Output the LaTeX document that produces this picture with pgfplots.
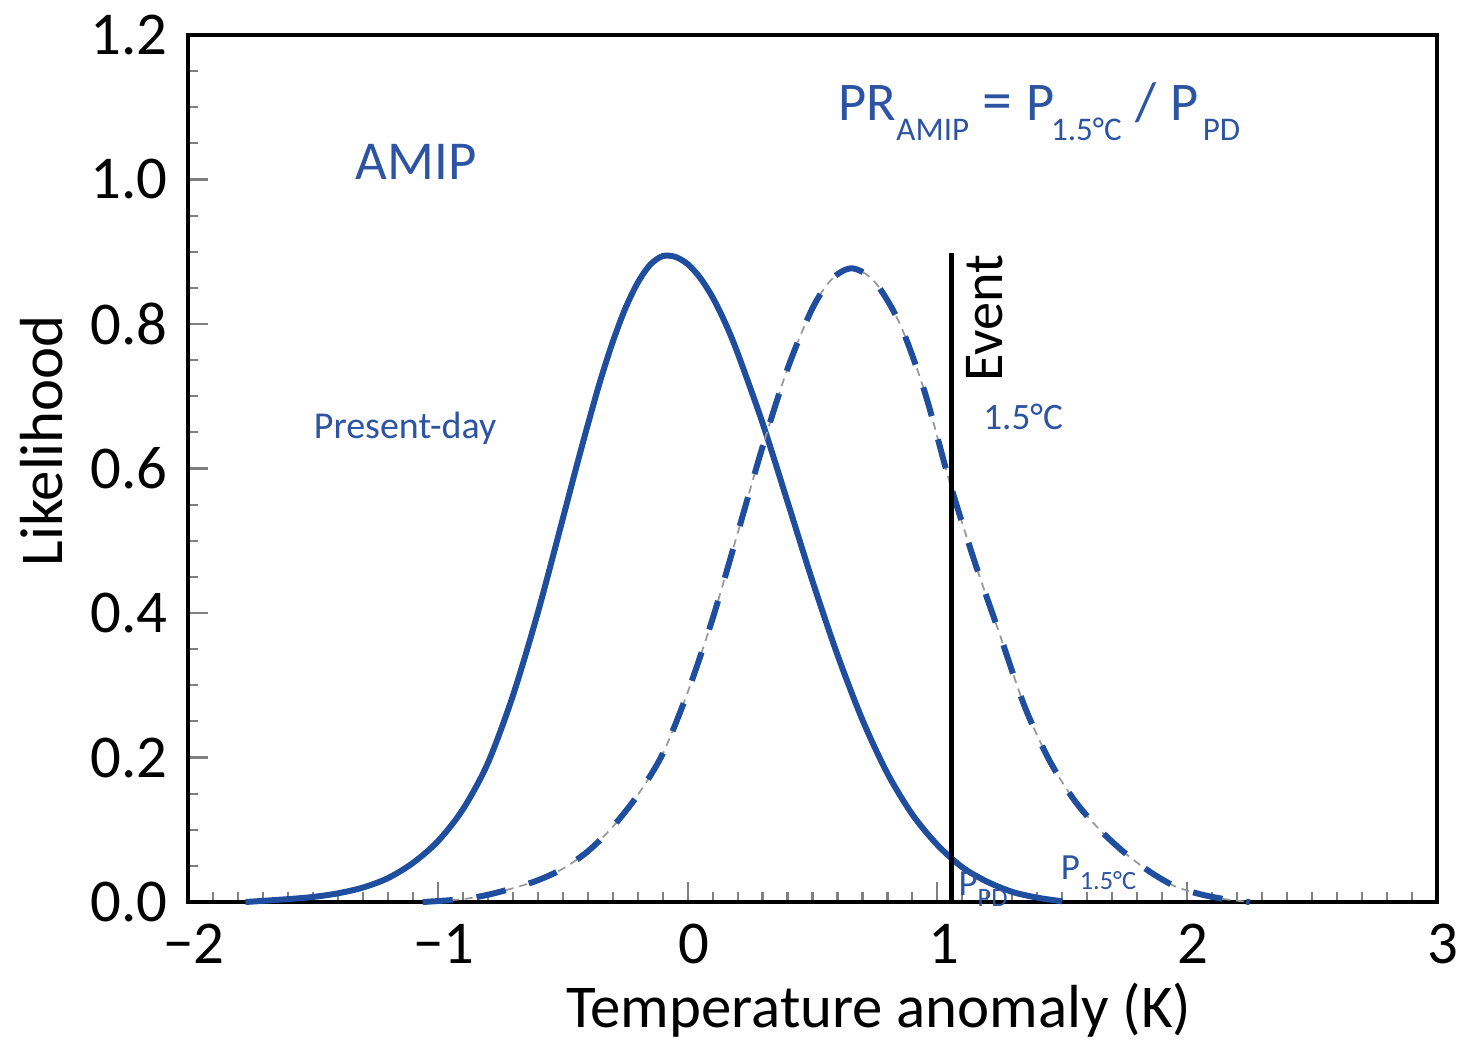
\documentclass[border=0pt]{standalone}
\usepackage{fontspec}
\setmainfont{Carlito}
\usepackage{pgfplots}
\pgfplotsset{compat=1.18}
\usetikzlibrary{calc}
\definecolor{amipblue}{RGB}{31,78,158}
\definecolor{textblue}{RGB}{44,84,162}
\newcommand{\fs}[1]{\fontsize{#1}{#1}\selectfont}
\newcommand{\lowsub}[3]{\raisebox{-#2}{\fs{#1}#3}}

\begin{document}
\begin{tikzpicture}
\begin{axis}[
    scale only axis,
    width=12.49cm, height=8.67cm,
    xmin=-2, xmax=3, ymin=0, ymax=1.2,
    xtick={-2,-1,0,1,2,3},
    xticklabels={−2,−1,0,1,2,3},
    ytick={0,0.2,0.4,0.6,0.8,1.0,1.2},
    yticklabel style={/pgf/number format/fixed, /pgf/number format/fixed zerofill, /pgf/number format/precision=1, xshift=-0.08cm},
    xticklabel style={yshift=-0.1cm, xshift=0.06cm},
    /pgf/number format/assume math mode=true,
    ticklabel style={font=\fs{17.3}},
    minor x tick num=9, minor y tick num=3,
    tick align=inside, tick pos=left,
    major tick length=0.2cm, minor tick length=0.1cm,
    every tick/.style={gray, line width=0.6pt},
    axis line style={line width=1pt, black},
    xlabel={Temperature anomaly (K)},
    ylabel={Likelihood},
    label style={font=\fs{17.3}},
    xlabel style={at={(axis description cs:0.553,-0.125)}, anchor=center},
    ylabel style={at={(axis description cs:-0.117,0.532)}, anchor=center},
    clip=false,
]
% present-day (solid)
\addplot[amipblue, line width=1.7pt, smooth] coordinates {
(-1.77,0) (-1.6,0.004) (-1.5,0.007) (-1.4,0.012) (-1.3,0.020) (-1.2,0.033)
(-1.1,0.054) (-1.0,0.084) (-0.9,0.128) (-0.8,0.192) (-0.7,0.285) (-0.6,0.400)
(-0.5,0.530) (-0.45,0.596) (-0.4,0.660) (-0.35,0.721) (-0.3,0.775) (-0.25,0.821)
(-0.2,0.857) (-0.15,0.882) (-0.1,0.894) (-0.05,0.893) (0.0,0.883) (0.05,0.864)
(0.1,0.837) (0.15,0.802) (0.2,0.760) (0.3,0.663) (0.4,0.554)
(0.5,0.444) (0.6,0.342) (0.7,0.252) (0.8,0.178) (0.9,0.121) (1.0,0.079)
(1.1,0.048) (1.2,0.028) (1.3,0.014) (1.4,0.006) (1.5,0.001)
};
% 1.5C world: thin grey guide under the blue dashes
\addplot[gray!80, line width=0.5pt, dash pattern=on 0.08cm off 0.06cm, smooth] coordinates {
(-1.06,0) (-0.9,0.004) (-0.8,0.010) (-0.7,0.019) (-0.6,0.030) (-0.5,0.046)
(-0.4,0.070) (-0.3,0.104) (-0.2,0.148) (-0.1,0.205) (0.0,0.290) (0.1,0.392)
(0.2,0.510) (0.3,0.630) (0.4,0.738) (0.5,0.822) (0.58,0.863) (0.66,0.877)
(0.75,0.858) (0.85,0.800) (0.95,0.705) (1.05,0.580) (1.15,0.470) (1.25,0.370)
(1.35,0.270) (1.45,0.195) (1.55,0.140) (1.65,0.100) (1.75,0.068) (1.85,0.042)
(1.95,0.022) (2.05,0.011) (2.15,0.004) (2.25,0)
};
\addplot[amipblue, line width=1.7pt, dash pattern=on 0.3cm off 0.24cm, smooth] coordinates {
(-1.06,0) (-0.9,0.004) (-0.8,0.010) (-0.7,0.019) (-0.6,0.030) (-0.5,0.046)
(-0.4,0.070) (-0.3,0.104) (-0.2,0.148) (-0.1,0.205) (0.0,0.290) (0.1,0.392)
(0.2,0.510) (0.3,0.630) (0.4,0.738) (0.5,0.822) (0.58,0.863) (0.66,0.877)
(0.75,0.858) (0.85,0.800) (0.95,0.705) (1.05,0.580) (1.15,0.470) (1.25,0.370)
(1.35,0.270) (1.45,0.195) (1.55,0.140) (1.65,0.100) (1.75,0.068) (1.85,0.042)
(1.95,0.022) (2.05,0.011) (2.15,0.004) (2.25,0)
};
% event threshold
\addplot[black, line width=1.4pt] coordinates {(1.055,0) (1.055,0.898)};

\node[text=textblue, font=\fs{15.6}] at (axis cs:-1.087,1.024) {AMIP};
\node[text=textblue, font=\fs{10.8}] at (axis cs:-1.131,0.656) {Present-day};
\node[text=textblue, font=\fs{10.6}] at (axis cs:1.343,0.671) {1.5°C};
\node[rotate=90, font=\fs{16}] at (axis cs:1.191,0.808) {Event};
\node[anchor=base west, inner sep=0pt, text=textblue, font=\fs{15.5}] at (axis cs:0.602,1.082)
  {PR\lowsub{9.4}{0.2cm}{AMIP}\hspace{0.13cm}{\fs{17}=}\hspace{0.15cm}P\hspace{-0.04cm}\lowsub{9.4}{0.2cm}{1.5°C}\hspace{0.14cm}/\hspace{0.14cm}P\hspace{0.04cm}\lowsub{9.4}{0.2cm}{PD}};
\node[anchor=base west, inner sep=0pt, text=textblue, font=\fs{10.5}] at (axis cs:1.082,0.0097)
  {P\lowsub{7.5}{0.11cm}{PD}};
\node[anchor=base west, inner sep=0pt, text=textblue, font=\fs{10.5}] at (axis cs:1.491,0.0318)
  {P\lowsub{7.5}{0.1cm}{1.5°C}};

\coordinate (sw) at (rel axis cs:0,0);
\coordinate (ne) at (rel axis cs:1,1);
\end{axis}
\pgfresetboundingbox
\path ($(sw)+(-1.88cm,-1.39cm)$) rectangle ($(ne)+(0.31cm,0.35cm)$);
\end{tikzpicture}
\end{document}
